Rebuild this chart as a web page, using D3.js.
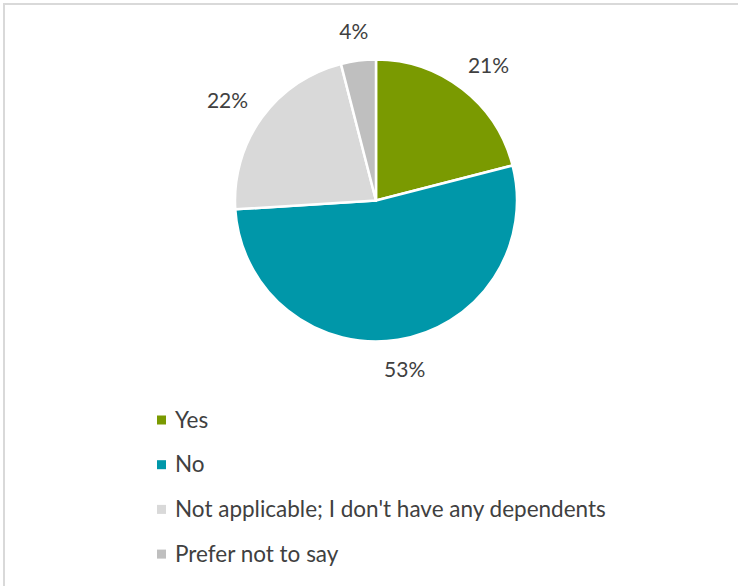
<!DOCTYPE html>
<html>
<head>
<meta charset="utf-8">
<script src="https://cdn.jsdelivr.net/npm/d3@7"></script>
<style>
  html, body { margin: 0; padding: 0; background: #fff; }
  svg { display: block; }
  text { font-family: Lato, "Open Sans", sans-serif; }
</style>
</head>
<body>
<svg id="chart" width="738" height="586"></svg>
<script>
const categories = ["Yes", "No", "Not applicable; I don't have any dependents", "Prefer not to say"];
const values = [21, 53, 22, 4];
const colors = ["#7a9a01", "#0097a9", "#d9d9d9", "#bfbfbf"];

const W = 738, H = 586;
const svg = d3.select("#chart");

// chart border (extends beyond the bottom/right edges)
svg.append("rect")
  .attr("x", 4).attr("y", 4)
  .attr("width", W + 20).attr("height", H + 20)
  .attr("fill", "#fff")
  .attr("stroke", "#d9d9d9").attr("stroke-width", 2);

const cx = 376, cy = 200.5, r = 141;
const data = categories.map((c, i) => ({ cat: c, value: values[i], color: colors[i] }));

const pie = d3.pie().value(d => d.value).sort(null);
const arcs = pie(data);
const arc = d3.arc().innerRadius(0).outerRadius(r);

const g = svg.append("g").attr("transform", `translate(${cx},${cy})`);

g.selectAll("path.slice")
  .data(arcs)
  .enter().append("path")
  .attr("class", "slice")
  .attr("d", arc)
  .attr("fill", d => d.data.color)
  .attr("stroke", "#fff")
  .attr("stroke-width", 2.5)
  .attr("stroke-linejoin", "round");

// data labels outside the pie
const labelR = r + 22;
const labelSize = 21;
const legendSize = 22.5;
g.selectAll("text.lbl")
  .data(arcs)
  .enter().append("text")
  .attr("class", "lbl")
  .attr("font-size", labelSize)
  .attr("fill", "#404040")
  .attr("text-anchor", "middle")
  .text(d => d.data.value + "%")
  .each(function(d) {
    const a = (d.startAngle + d.endAngle) / 2;
    const w = this.getComputedTextLength();
    const h = 16;
    const x = Math.sin(a) * labelR + Math.sin(a) * w / 2;
    const y = -Math.cos(a) * labelR - Math.cos(a) * h / 2;
    d3.select(this).attr("x", x).attr("y", y + h / 2);
  });

// legend
const legendX = 157, legendY0 = 420, legendStep = 44.7;
const leg = svg.append("g");
const rows = leg.selectAll("g.row")
  .data(data)
  .enter().append("g")
  .attr("class", "row")
  .attr("transform", (d, i) => `translate(${legendX},${legendY0 + i * legendStep})`);

rows.append("rect")
  .attr("x", 0).attr("y", -4.5)
  .attr("width", 9).attr("height", 9)
  .attr("fill", d => d.color);

rows.append("text")
  .attr("x", 18).attr("y", 7.5)
  .attr("font-size", legendSize)
  .attr("fill", "#404040")
  .text(d => d.cat);
</script>
</body>
</html>
